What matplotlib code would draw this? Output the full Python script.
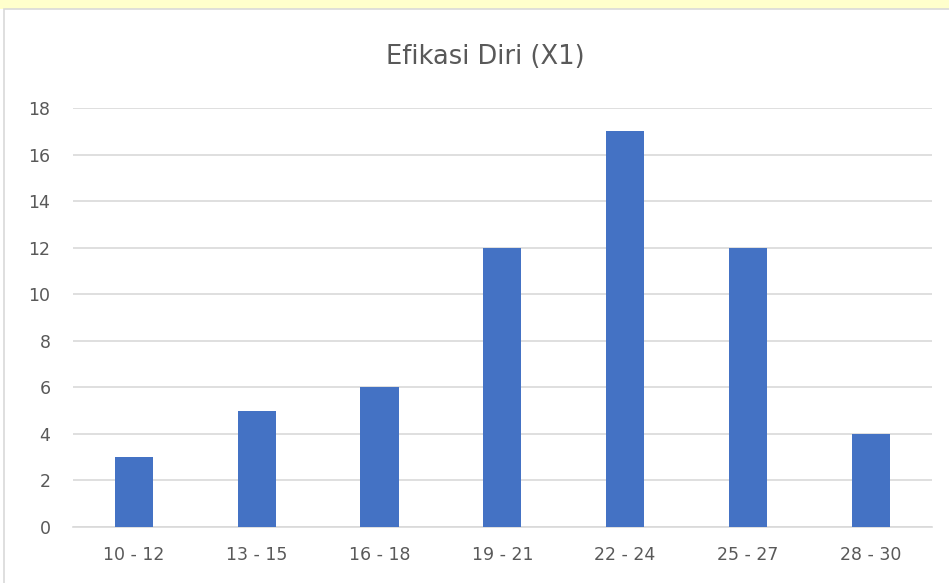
import matplotlib.pyplot as plt
from matplotlib.patches import Rectangle

# frequency table for Efikasi Diri (X1)
kelas = ['10 - 12', '13 - 15', '16 - 18', '19 - 21', '22 - 24', '25 - 27', '28 - 30']
frekuensi = [3, 5, 6, 12, 17, 12, 4]
y_ticks = [0, 2, 4, 6, 8, 10, 12, 14, 16, 18]

W, H = 949, 583
fig = plt.figure(figsize=(W / 100, H / 100), dpi=100)
fig.patch.set_facecolor('white')

# pale watermark strip above the chart frame
fig.patches.append(Rectangle((0, 1 - 9 / H), 1, 9 / H, transform=fig.transFigure,
                             facecolor='#FFFFCC', edgecolor='none', zorder=-2))
# chart frame
fig.patches.append(Rectangle((4 / W, -0.01), 1.0, 1 - 9 / H + 0.01, transform=fig.transFigure,
                             facecolor='white', edgecolor='#D9D9D9', linewidth=1.2, zorder=-1))

ax = fig.add_axes([72.6 / W, 1 - 527 / H, (932 - 72.6) / W, (527 - 108) / H])
ax.set_facecolor('none')
ax.bar(range(len(kelas)), frekuensi, width=0.31, color='#4472C4', zorder=3)

ax.set_xlim(-0.5, len(kelas) - 0.5)
ax.set_ylim(0, 18)
ax.set_yticks(y_ticks)
ax.set_xticks(range(len(kelas)))
ax.set_xticklabels(kelas)
ax.grid(axis='y', color='#D9D9D9', linewidth=1.2, zorder=0)
for s in ['top', 'right', 'left']:
    ax.spines[s].set_visible(False)
ax.spines['bottom'].set_color('#D9D9D9')
ax.spines['bottom'].set_linewidth(1.2)
ax.tick_params(length=0, labelsize=12.5, colors='#595959', pad=14)
ax.tick_params(axis='y', pad=16)

fig.text(485 / W, 1 - 57 / H, 'Efikasi Diri (X1)', ha='center', va='center',
         fontsize=18.5, color='#595959')

fig.savefig('out.png', dpi=100)
